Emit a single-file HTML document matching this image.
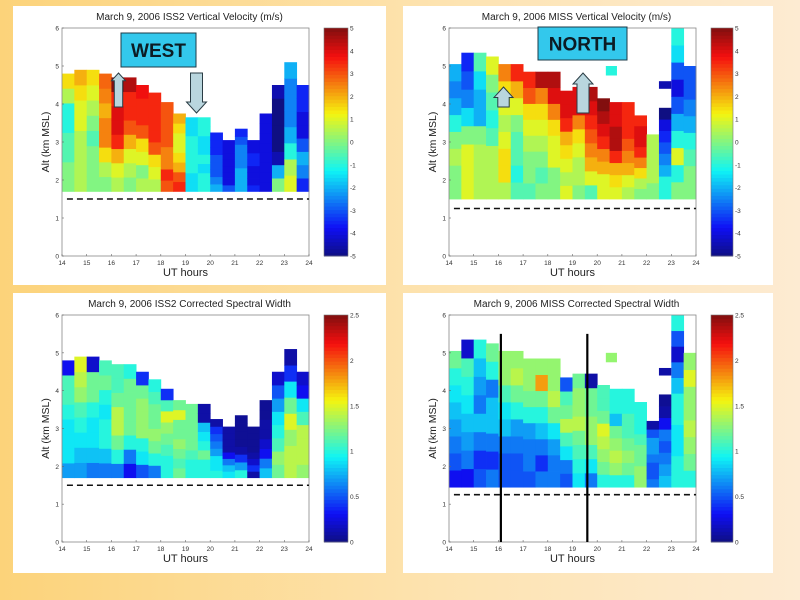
<!DOCTYPE html>
<html><head><meta charset="utf-8">
<style>
html,body{margin:0;padding:0;width:800px;height:600px;overflow:hidden;}
body{background:linear-gradient(to right,#fcd37a 0%,#fde3b0 55%,#fdebd2 100%);font-family:"Liberation Sans",sans-serif;}
svg{position:absolute;left:0;top:0;}
</style></head><body>
<svg id="chart" width="800" height="600" xmlns="http://www.w3.org/2000/svg"></svg>
<script>
// ---- data ----
const xTicks = [14,15,16,17,18,19,20,21,22,23,24];
const yTicks = [0,1,2,3,4,5,6];
const vvTicks = [-5,-4,-3,-2,-1,0,1,2,3,4,5];
const swTicks = [0,0.5,1,1.5,2,2.5];
const colStart = [14,14.5,15,15.5,16,16.5,17,17.5,18,18.5,19,19.5,20,20.5,21,21.5,22,22.5,23,23.5];

const issTops = [4.8,4.9,4.9,4.8,4.7,4.7,4.5,4.3,4.05,3.75,3.65,3.65,3.25,3.05,3.35,3.05,3.75,4.5,5.1,4.5];
const issVV = [
[0,0,-0.5,-0.5,-1,-1,0.5,1.5],[0.5,0.5,0.5,0.5,1,1,1.5,2],[0,0,0,-0.5,0,0.5,1,1.5],[0,0.5,1.5,2.5,2.5,2,2.5,2.8],
[0.5,1,2,3.5,4,4,3.5,5],[0,0.5,1,2,3,3.5,3.5,4.5],[0.5,0,1,1.5,3,3.5,3.5,3.8],[0.5,1,1.5,3,3.5,3.5,3.5,3.5],
[3,3.5,2.5,2.5,3,3,3,3],[3.5,3,2,1.5,1,1,1.5,2],[-1.5,-1.5,-1,-1,-1,-1,-1.5,-1.5],[-1,-1,-1.5,-1,-1.5,-1.5,-1,-1],
[-2,-2.5,-3,-3,-3,-3.5,-3.5,-3.5],[-3,-4,-4,-4,-4,-4,-4,-4],[-2,-2,-2,-2.5,-2.5,-2.5,-3,-3.5],[-3.5,-4,-4,-4,-3.5,-3.5,-4,-4],
[-4,-4,-4,-4,-4,-4,-4,-4],[0,-2,-4.5,-5,-5,-5,-5,-4.5],[1,0.5,-1,-2,-2.5,-2.5,-2.5,-2],[-3.5,-2.5,-2,-3,-4,-4,-3.5,-3.5]];
const issSW = [
[0.7,0.9,0.9,0.9,1,1.1,1.1,0.3],[0.7,0.8,0.9,1,1.1,1.3,1.4,1.5],[0.6,0.8,0.9,0.9,1,1.2,1.2,0.2],[0.6,0.8,1,1,0.9,1,1.2,1.1],
[0.6,1,1.2,1.4,1.4,1.2,1.1,1.1],[0.3,0.6,1,1.2,1.2,1.2,1.2,1],[0.5,0.9,1,1.3,1.3,1.3,1.2,0.4],[0.6,1,1.2,1.3,1.2,1.2,1.1,1],
[1,1,1.1,1.2,1.3,1.5,1.1,0.4],[1.2,1.1,1.2,1.3,1.2,1.2,1.5,1.2],[1,1,1.1,1.2,1.2,1.2,1.2,1.2],[1,1,1.2,1,0.9,0.8,0.1,0.1],
[1,0.9,0.9,0.7,0.6,0.5,0.4,0.1],[0.9,0.8,0.6,0.3,0.1,0.1,0.1,0.1],[1,0.7,0.4,0.1,0.05,0.05,0.05,0.05],[0.1,0.4,0.2,0.1,0.05,0.05,0.05,0.05],
[0.8,0.6,0.3,0.2,0.1,0.1,0.05,0.05],[1.2,1.3,1.1,1,0.9,0.7,0.5,0.2],[1.4,1.4,1.3,1.5,1.2,0.9,0.4,0.1],[1.3,1.4,1.4,1.4,1.1,0.9,0.3,0.2]];

const missTops = [5.05,5.35,5.35,5.25,5.05,5.05,4.85,4.85,4.85,4.35,4.45,4.45,4.15,4.05,4.05,3.7,3.2,3.9,6.0,5.0];
const missVV = [
[0,0,0.5,0,-1,-2,-2.5,-2],[1,1,1,0,-1.5,-2.5,-3,-3.5],[0.5,0.5,0.5,0,-2,-2,-1.5,-0.5],[0.5,0.5,0.5,-0.5,-1,-0.5,0,1],
[0.5,1.5,1.5,1,0.5,1,1.5,2.5],[-0.5,-1,-0.5,-0.5,0,1,2,3.5],[-0.5,0,0,0.5,1,1.5,3,3.5],[0,-0.5,0,0.5,1,1.5,2.5,4.5],
[0,0,1,1,1.5,2.5,4,4.5],[1,0.5,1,1.5,2,3.5,4,4],[0,0.5,0.5,1,1.5,2.5,4,4],[-0.5,1,2,2.5,3,3.5,4,4.5],
[1,1,2,2.5,3.5,4,4.5,5],[1,1.5,2,3.5,4.5,4.5,4,4],[0.5,1,2,2.5,3,3.5,3.5,3.5],[0,0.5,1.5,2.5,3.5,4,4,3.5],
[0,0,0.5,0.5,0.5,0.5,0.5,0.5],[-1,-1,-2,-2.5,-3,-3.5,-4,-5],[0,-1,1,-1,-2,-3,-4,-3,-1.5,-1],[0,0,-0.5,-1,-2,-2.5,-3,-3]];
const missSW = [
[0.3,0.5,0.6,0.7,0.8,0.9,1,1.2],[0.3,0.6,0.7,0.8,0.9,1,1.1,0.2],[0.5,0.4,0.6,0.8,0.6,0.7,0.8,1],[0.6,0.4,0.6,0.8,0.8,0.6,1,1.2],
[0.5,0.5,0.6,0.8,0.9,1.1,1.3,1.3],[0.5,0.5,0.6,0.7,1,1.2,1.4,1.3],[0.5,0.6,0.6,0.7,1,1.2,1.3,1.3],[0.6,0.4,0.6,0.8,1,1.2,1.8,1.3],
[0.6,0.6,0.7,0.9,1.2,1.4,1.3,1.3],[0.5,0.6,0.9,1.1,1.4,1.2,1.1,0.5],[0.9,1,1.1,1.2,1.4,1.3,1.3,1.2],[0.6,0.9,1.1,1.3,1.3,1.2,1.2,0.1],
[1,1.2,1.3,1.4,1.5,1.2,1.1,1.1],[1,1.3,1.4,1.3,1.2,0.8,1,1],[1,1.2,1.3,1.2,1.1,1.1,1,1],[1.3,1.3,1.2,1.2,1.1,1,1,1],
[0.6,0.5,0.5,0.6,0.7,0.7,0.5,0.1],[0.8,0.7,0.6,0.5,0.6,0.3,0.1,0.05],[1,1,0.9,0.9,1,1,0.8,0.6,0.2,0.5,1],[1,1.2,1.3,1.4,1.3,1.3,1.5,1.3]];
const missExtraCell = [20.35,20.8,4.75,5.0];
const missExtraVV = -1;
const missExtraSW = 1.3;
const missBlipCell = [22.5,23,4.4,4.6];
const missBlipVV = -4.5;
const missBlipSW = 0.1;
const markerTimes = [16.1,19.6];

// ---- drawing ----
const svg = document.getElementById('chart');
const NS = 'http://www.w3.org/2000/svg';
function mk(tag, attrs, parent){const e=document.createElementNS(NS,tag);for(const k in attrs)e.setAttribute(k,attrs[k]);(parent||svg).appendChild(e);return e;}
function jet(t){t=Math.max(0,Math.min(1,t));
  const r=Math.max(0,Math.min(1,Math.min(4*t-1.5,-4*t+4.5)));
  const g=Math.max(0,Math.min(1,Math.min(4*t-0.5,-4*t+3.5)));
  const b=Math.max(0,Math.min(1,Math.min(4*t+0.5,-4*t+2.5)));
  const m=0.1, gr=150;
  const f=c=>Math.round((c*255)*(1-m)+gr*m);
  return 'rgb('+f(r)+','+f(g)+','+f(b)+')';}

function panel(p){
  const g=mk('g',{});
  
  
  const bg=mk('rect',{x:p.bx,y:p.by,width:p.bw,height:p.bh,fill:'#fff'},g);
  
  
  const X=v=>p.x0+(v-14)/10*(p.x1-p.x0);
  const Y=v=>p.y1-(v/6)*(p.y1-p.y0);
  const C=v=>jet((v-p.vmin)/(p.vmax-p.vmin));
  for(let i=0;i<p.vals.length;i++){
    const col=p.vals[i];const n=col.length;const h=(p.tops[i]-p.base)/n;
    for(let j=0;j<n;j++){
      const a=p.base+j*h, b=a+h;
      const r=mk('rect',{x:X(colStart[i]),y:Y(b),width:X(colStart[i]+0.5)-X(colStart[i])+0.4,height:Y(a)-Y(b)+0.4,fill:C(col[j])},g);
      
      
    }
  }
  (p.extras||[]).forEach(e=>{
    const r=mk('rect',{x:X(e[0][0]),y:Y(e[0][3]),width:X(e[0][1])-X(e[0][0]),height:Y(e[0][2])-Y(e[0][3]),fill:C(e[1])},g);
    
    
  });
  const ax=mk('rect',{x:p.x0,y:p.y0,width:p.x1-p.x0,height:p.y1-p.y0,fill:'none',stroke:'#888','stroke-width':0.8},g);
  
  
  const dl=mk('line',{x1:X(14.2),x2:X(24),y1:Y(p.dash),y2:Y(p.dash),stroke:'#111','stroke-width':1.6,'stroke-dasharray':'6,4'},g);
  
  
  if(p.vlines){p.vlines.forEach(t=>{
    const l=mk('line',{x1:X(t),x2:X(t),y1:Y(0),y2:Y(5.5),stroke:'#000','stroke-width':2.2},g);
    
    
  });}
  xTicks.forEach(t=>{
    mk('line',{x1:X(t),x2:X(t),y1:p.y1,y2:p.y1-2,stroke:'#666','stroke-width':0.6},g);
    const tx=mk('text',{x:X(t),y:p.y1+9,'font-size':6.5,'text-anchor':'middle',fill:'#333'},g);
    tx.textContent=t;
    
    
  });
  yTicks.forEach(t=>{
    mk('line',{x1:p.x0,x2:p.x0+2,y1:Y(t),y2:Y(t),stroke:'#666','stroke-width':0.6},g);
    const tx=mk('text',{x:p.x0-3,y:Y(t)+2.5,'font-size':6.5,'text-anchor':'end',fill:'#333'},g);
    tx.textContent=t;
    
    
  });
  const tt=mk('text',{x:(p.x0+p.x1)/2+4,y:p.y0-8,'font-size':10,'text-anchor':'middle',fill:'#222','xml:space':'preserve'},g);
  tt.textContent=p.title;
  
  
  const xl=mk('text',{x:(p.x0+p.x1)/2,y:p.y1+20,'font-size':11,'text-anchor':'middle',fill:'#222'},g);
  xl.textContent='UT hours';
  
  
  const yl=mk('text',{x:0,y:0,'font-size':10.5,'text-anchor':'middle',fill:'#222',transform:'translate('+(p.x0-13)+','+((p.y0+p.y1)/2)+') rotate(-90)'},g);
  yl.textContent='Alt (km MSL)';
  
  
  const cb=mk('g',{},g);
  
  
  const N=64;
  for(let k=0;k<N;k++){
    mk('rect',{x:p.cx,y:p.y1-(k+1)*(p.y1-p.y0)/N,width:p.cw,height:(p.y1-p.y0)/N+0.5,fill:jet((k+0.5)/N)},cb);
  }
  mk('rect',{x:p.cx,y:p.y0,width:p.cw,height:p.y1-p.y0,fill:'none',stroke:'#777','stroke-width':0.6},cb);
  p.cticks.forEach(t=>{
    const yy=p.y1-(t-p.vmin)/(p.vmax-p.vmin)*(p.y1-p.y0);
    const tx=mk('text',{x:p.cx+p.cw+2,y:yy+2.5,'font-size':6.5,fill:'#333'},cb);
    tx.textContent=t;
    
    
  });
  return {X,Y,g};
}

function labelBox(x,y,w,h,txt,name){
  const r=mk('rect',{x:x,y:y,width:w,height:h,fill:'#33c8ec',stroke:'#1d3b48','stroke-width':1});
  
  
  const t=mk('text',{x:x+w/2,y:y+h/2+7,'font-size':19,'font-weight':'bold','text-anchor':'middle',fill:'#0c1c24'});
  t.textContent=txt;
  
  
}
function arrow(cx,yTop,yBot,w,up,name){
  const hw=w/2, sw=w*0.3, hh=w*0.55;
  let pts;
  if(up) pts=[[cx,yTop],[cx+hw,yTop+hh],[cx+sw,yTop+hh],[cx+sw,yBot],[cx-sw,yBot],[cx-sw,yTop+hh],[cx-hw,yTop+hh]];
  else pts=[[cx,yBot],[cx+hw,yBot-hh],[cx+sw,yBot-hh],[cx+sw,yTop],[cx-sw,yTop],[cx-sw,yBot-hh],[cx-hw,yBot-hh]];
  const a=mk('polygon',{points:pts.map(q=>q.join(',')).join(' '),fill:'#b9d6de',stroke:'#2a3c44','stroke-width':1});
  
  
}

panel({name:'iss2-vertical-velocity-panel',bx:13,by:6,bw:373,bh:279,x0:62,x1:309,y0:28,y1:256,cx:324,cw:24,
  vals:issVV,tops:issTops,base:1.7,dash:1.5,vmin:-5,vmax:5,cticks:vvTicks,title:'March 9, 2006    ISS2 Vertical Velocity (m/s)'});
panel({name:'miss-vertical-velocity-panel',bx:403,by:6,bw:370,bh:279,x0:449,x1:696,y0:28,y1:256,cx:711,cw:22,
  vals:missVV,tops:missTops,base:1.5,dash:1.25,vmin:-5,vmax:5,cticks:vvTicks,
  extras:[[missExtraCell,missExtraVV],[missBlipCell,missBlipVV]],title:'March 9, 2006    MISS Vertical Velocity (m/s)'});
panel({name:'iss2-spectral-width-panel',bx:13,by:293,bw:373,bh:280,x0:62,x1:309,y0:315,y1:542,cx:324,cw:24,
  vals:issSW,tops:issTops,base:1.7,dash:1.5,vmin:0,vmax:2.5,cticks:swTicks,title:'March 9, 2006    ISS2 Corrected Spectral Width'});
panel({name:'miss-spectral-width-panel',bx:403,by:293,bw:370,bh:280,x0:449,x1:696,y0:315,y1:542,cx:711,cw:22,
  vals:missSW,tops:missTops,base:1.45,dash:1.25,vmin:0,vmax:2.5,cticks:swTicks,vlines:markerTimes,
  extras:[[missExtraCell,missExtraSW],[missBlipCell,missBlipSW]],title:'March 9, 2006    MISS Corrected Spectral Width'});

labelBox(121,33,75,34,'WEST','west-label');
arrow(118.5,73,107,14,true,'updraft-arrow');
arrow(196.5,73,113,20,false,'downdraft-arrow');
labelBox(538,27,89,33,'NORTH','north-label');
arrow(503.5,87,107,19,true,'small-updraft-arrow');
arrow(583,73,113,20,true,'updraft-arrow-north');
</script>
</body></html>
